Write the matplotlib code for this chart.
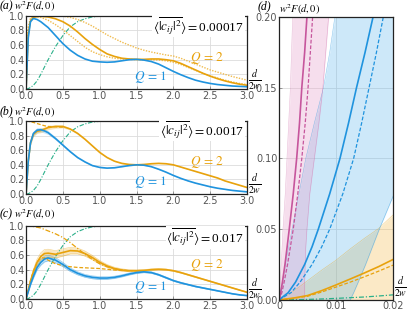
import numpy as np
import matplotlib.pyplot as plt

plt.rcParams['mathtext.fontset'] = 'stix'

BLUE = '#1f93de'
ORANGE = '#e8a20c'
LIGHT_OR = '#f0bb4e'
GREEN = '#2bb08a'
PINK = '#c6559c'

# common distance grid for panels (a)-(c), in units of 2w
X = [0, 0.03, 0.06, 0.1, 0.15, 0.2, 0.25, 0.3, 0.4, 0.5, 0.6, 0.7, 0.8, 0.9, 1.0,
     1.1, 1.2, 1.3, 1.4, 1.5, 1.6, 1.7, 1.8, 1.9, 2.0, 2.1, 2.2, 2.3, 2.4, 2.5,
     2.6, 2.7, 2.8, 2.9, 3.0]

green_ref = [0, 0.005, 0.02, 0.05, 0.11, 0.2, 0.3, 0.4, 0.58, 0.73, 0.85, 0.92, 0.96, 0.985, 0.995,
             1.0, 1.0, 1.0, 1.0, 1.0, 1.0, 1.0, 1.0, 1.0, 1.0, 1.0, 1.0, 1.0, 1.0, 1.0,
             1.0, 1.0, 1.0, 1.0, 1.0]

# (a)
a_q1 = [0, 0.7, 0.92, 0.965, 0.95, 0.92, 0.88, 0.84, 0.73, 0.62, 0.53, 0.46, 0.41, 0.38, 0.37,
        0.365, 0.37, 0.385, 0.4, 0.405, 0.395, 0.375, 0.34, 0.29, 0.24, 0.195, 0.155, 0.12, 0.095, 0.075,
        0.06, 0.05, 0.04, 0.035, 0.03]
a_q2 = [0, 0.75, 0.93, 0.98, 0.99, 0.995, 0.99, 0.985, 0.96, 0.92, 0.86, 0.78, 0.69, 0.61, 0.54,
        0.48, 0.445, 0.42, 0.41, 0.405, 0.405, 0.41, 0.41, 0.4, 0.385, 0.35, 0.305, 0.26, 0.215, 0.175,
        0.14, 0.11, 0.085, 0.065, 0.05]
a_q2_low = [0, 0.8, 0.95, 0.99, 0.99, 0.98, 0.96, 0.94, 0.88, 0.81, 0.73, 0.65, 0.57, 0.51, 0.47,
            0.44, 0.42, 0.41, 0.405, 0.4, 0.4, 0.4, 0.395, 0.385, 0.365, 0.335, 0.295, 0.255, 0.215, 0.18,
            0.15, 0.12, 0.095, 0.075, 0.06]
a_q2_high = [0, 0.85, 0.97, 0.99, 1.0, 1.0, 1.0, 1.0, 1.0, 0.995, 0.98, 0.95, 0.91, 0.86, 0.8,
             0.74, 0.69, 0.64, 0.6, 0.56, 0.53, 0.505, 0.485, 0.465, 0.45, 0.42, 0.38, 0.34, 0.3, 0.26,
             0.23, 0.2, 0.17, 0.145, 0.12]

# (b)
b_q1 = [0, 0.45, 0.7, 0.83, 0.875, 0.88, 0.865, 0.84, 0.76, 0.67, 0.58, 0.5, 0.44, 0.39, 0.365,
        0.355, 0.36, 0.375, 0.39, 0.4, 0.395, 0.375, 0.34, 0.3, 0.255, 0.215, 0.18, 0.15, 0.125, 0.1,
        0.08, 0.065, 0.05, 0.04, 0.03]
b_q1_err = [0, 0.02, 0.03, 0.035, 0.035, 0.03, 0.03, 0.025, 0.02, 0.015, 0.012, 0.01, 0.008, 0.007, 0.006,
            0.005, 0.005, 0.005, 0.005, 0.005, 0.005, 0.005, 0.004, 0.004, 0.004, 0.003, 0.003, 0.003, 0.003, 0.003,
            0.002, 0.002, 0.002, 0.002, 0.002]
b_q2 = [0, 0.45, 0.7, 0.82, 0.86, 0.87, 0.89, 0.91, 0.925, 0.925, 0.89, 0.83, 0.75, 0.66, 0.57,
        0.5, 0.45, 0.42, 0.405, 0.4, 0.405, 0.415, 0.42, 0.415, 0.4, 0.37, 0.34, 0.31, 0.28, 0.25,
        0.22, 0.18, 0.15, 0.12, 0.09]
b_q2_err = [0, 0.02, 0.03, 0.03, 0.03, 0.03, 0.03, 0.03, 0.025, 0.02, 0.015, 0.012, 0.01, 0.008, 0.007,
            0.006, 0.005, 0.005, 0.005, 0.005, 0.005, 0.005, 0.005, 0.004, 0.004, 0.004, 0.003, 0.003, 0.003, 0.003,
            0.003, 0.002, 0.002, 0.002, 0.002]
b_q2_short = [1.0, 0.995, 0.99, 0.98, 0.965, 0.95, 0.935, 0.925, 0.92, 0.915]

# (c)
c_q1 = [0, 0.1, 0.2, 0.31, 0.43, 0.5, 0.545, 0.56, 0.53, 0.47, 0.4, 0.35, 0.315, 0.295, 0.285,
        0.285, 0.295, 0.315, 0.34, 0.36, 0.37, 0.36, 0.33, 0.29, 0.25, 0.22, 0.195, 0.17, 0.15, 0.13,
        0.11, 0.09, 0.07, 0.055, 0.045]
c_q1_err = [0, 0.01, 0.02, 0.03, 0.035, 0.04, 0.04, 0.04, 0.035, 0.03, 0.025, 0.022, 0.02, 0.02, 0.02,
            0.018, 0.016, 0.015, 0.014, 0.013, 0.012, 0.011, 0.01, 0.01, 0.009, 0.008, 0.007, 0.007, 0.006, 0.006,
            0.005, 0.005, 0.004, 0.004, 0.004]
c_q2 = [0, 0.12, 0.24, 0.37, 0.5, 0.58, 0.62, 0.625, 0.61, 0.635, 0.66, 0.655, 0.62, 0.565, 0.5,
        0.45, 0.415, 0.395, 0.385, 0.385, 0.39, 0.4, 0.405, 0.4, 0.385, 0.36, 0.33, 0.3, 0.27, 0.24,
        0.21, 0.18, 0.15, 0.12, 0.09]
c_q2_err = [0, 0.01, 0.02, 0.035, 0.045, 0.05, 0.055, 0.055, 0.05, 0.05, 0.045, 0.04, 0.035, 0.03, 0.025,
            0.02, 0.018, 0.016, 0.014, 0.012, 0.011, 0.01, 0.01, 0.009, 0.008, 0.008, 0.007, 0.007, 0.006, 0.006,
            0.005, 0.005, 0.005, 0.004, 0.004]
c_q2_high = [1.0, 0.998, 0.995, 0.99, 0.98, 0.97, 0.95, 0.93, 0.89, 0.84, 0.77, 0.69, 0.61, 0.54, 0.48,
             0.44, 0.41, 0.395, 0.385, 0.385]
c_q2_low = [0, 0.12, 0.25, 0.38, 0.5, 0.56, 0.56, 0.53, 0.48, 0.455, 0.44, 0.43, 0.425, 0.42, 0.415,
            0.405, 0.395, 0.39, 0.385]

coef_labels = ['0.00017', '0.0017', '0.017']

# (d): short-distance zoom
d_y = [0, 0.005, 0.0125, 0.025, 0.0375, 0.05, 0.075, 0.1, 0.125, 0.15, 0.175, 0.2, 0.22]
pink_solid = [0, 0.0003, 0.0006, 0.00105, 0.00143, 0.0018, 0.0025, 0.0031, 0.0036, 0.004, 0.0045, 0.0049, 0.0052]
pink_dash = [0, 0.0005, 0.0009, 0.0015, 0.002, 0.0025, 0.0033, 0.004, 0.0046, 0.0051, 0.0055, 0.0059, 0.0062]
pink_lo = [0, 0.0001, 0.0002, 0.0004, 0.00055, 0.0007, 0.0011, 0.0014, 0.0017, 0.002, 0.0022, 0.0024, 0.0026]
pink_hi = [0.0045, 0.0045, 0.0045, 0.0046, 0.0047, 0.0049, 0.0054, 0.0062, 0.007, 0.0077, 0.0082, 0.0087, 0.009]
blue_solid = [0, 0.0016, 0.0029, 0.0045, 0.0058, 0.0069, 0.0089, 0.0107, 0.0122, 0.0136, 0.0151, 0.0165, 0.0175]
blue_dash = [0, 0.0021, 0.0037, 0.0058, 0.0075, 0.0089, 0.0112, 0.0131, 0.0145, 0.0158, 0.0171, 0.0183, 0.0192]
blue_lo = [0, 0.0002, 0.0006, 0.0011, 0.0017, 0.0023, 0.0035, 0.0047, 0.0062, 0.0078, 0.0089, 0.0098, 0.0105]
blue_hi = [0.0125, 0.0131, 0.0139, 0.0152, 0.0164, 0.0176, 0.0202, 0.0228, 0.0255, 0.028, 0.031, 0.034, 0.036]

d_x = [0, 0.0025, 0.005, 0.0075, 0.01, 0.0125, 0.015, 0.0175, 0.02]
or_solid = [0, 0.0012, 0.003, 0.0065, 0.0105, 0.0147, 0.019, 0.0235, 0.0285]
or_dash = [0, 0.001, 0.0025, 0.0055, 0.009, 0.0125, 0.0163, 0.0203, 0.0245]
or_hi = [0, 0.006, 0.0135, 0.021, 0.028, 0.036, 0.0435, 0.0505, 0.06]
green_d = [0, 0.0001, 0.0003, 0.0006, 0.001, 0.0015, 0.002, 0.0027, 0.0035]

fig = plt.figure(figsize=(4.07, 3.11), dpi=100)


def frame(ax, xt, yt, xl, yl, xlim, ylim):
    ax.set_xlim(*xlim)
    ax.set_ylim(*ylim)
    ax.set_xticks(xt)
    ax.set_yticks(yt)
    ax.set_xticklabels(xl)
    ax.set_yticklabels(yl)
    ax.grid(True, color='#dcdcdc', lw=0.6)
    ax.set_axisbelow(True)
    ax.tick_params(direction='in', length=2.5, width=0.6, color='#888888',
                   labelsize=7, labelcolor='#555555', pad=1.2)
    for s in ax.spines.values():
        s.set_color('#222222')
        s.set_linewidth(0.9)


tops = [0.714, 0.376, 0.039]
tags = ['(a)', '(b)', '(c)']
axes = []
for i in range(3):
    ax = fig.add_axes([0.064, tops[i], 0.543, 0.235])
    frame(ax, [0, 0.5, 1.0, 1.5, 2.0, 2.5, 3.0], [0, 0.2, 0.4, 0.6, 0.8, 1.0],
          ['0.0', '0.5', '1.0', '1.5', '2.0', '2.5', '3.0'],
          ['0.0', '0.2', '0.4', '0.6', '0.8', '1.0'], (0, 3), (0, 1))
    ax.plot(X, green_ref, color=GREEN, lw=0.8, ls=(0, (4, 1.5, 1, 1.5)))
    axes.append(ax)

ax = axes[0]
ax.plot(X, a_q2_high, color=LIGHT_OR, lw=1.0, ls=(0, (1, 1)))
ax.plot(X, a_q2_low, color=LIGHT_OR, lw=1.0, ls=(0, (1, 1)))
ax.plot(X, a_q2, color=ORANGE, lw=1.2)
ax.plot(X, a_q1, color=BLUE, lw=1.2)

ax = axes[1]
lo = np.array(b_q1) - np.array(b_q1_err)
hi = np.array(b_q1) + np.array(b_q1_err)
ax.fill_between(X, lo, hi, color=BLUE, alpha=0.25, lw=0)
lo = np.array(b_q2) - np.array(b_q2_err)
hi = np.array(b_q2) + np.array(b_q2_err)
ax.fill_between(X, lo, hi, color=ORANGE, alpha=0.25, lw=0)
ax.plot(X[:len(b_q2_short)], b_q2_short, color=ORANGE, lw=0.9, ls=(0, (3, 1.5)))
ax.plot(X, b_q2, color=ORANGE, lw=1.2)
ax.plot(X, b_q1, color=BLUE, lw=1.2)

ax = axes[2]
lo = np.array(c_q1) - np.array(c_q1_err)
hi = np.array(c_q1) + np.array(c_q1_err)
ax.fill_between(X, lo, hi, color=BLUE, alpha=0.25, lw=0)
ax.plot(X, lo, color=BLUE, lw=0.4, alpha=0.5)
ax.plot(X, hi, color=BLUE, lw=0.4, alpha=0.5)
lo = np.array(c_q2) - np.array(c_q2_err)
hi = np.array(c_q2) + np.array(c_q2_err)
ax.fill_between(X, lo, hi, color=ORANGE, alpha=0.25, lw=0)
ax.plot(X, lo, color=ORANGE, lw=0.4, alpha=0.5)
ax.plot(X, hi, color=ORANGE, lw=0.4, alpha=0.5)
ax.plot(X[:len(c_q2_high)], c_q2_high, color=ORANGE, lw=0.9, ls=(0, (4, 1.5, 1, 1.5)))
ax.plot(X[:len(c_q2_low)], c_q2_low, color=ORANGE, lw=0.9, ls=(0, (3, 1.5)))
ax.plot(X, c_q2, color=ORANGE, lw=1.2)
ax.plot(X, c_q1, color=BLUE, lw=1.2)

q2_y = [0.42, 0.44, 0.46]
q1_y = [0.16, 0.17, 0.16]
label_y = [0.86, 0.875, 0.84]
fr_y = [81, 185, 290]
head_y = [16, 121, 224]
for i, ax in enumerate(axes):
    ax.text(2.22, q2_y[i], r'$Q\,=\,2$', color=ORANGE, fontsize=9.5, va='center')
    ax.text(1.46, q1_y[i], r'$Q\,=\,1$', color=BLUE, fontsize=9.5, va='center')
    ax.text(0.985, label_y[i], r'$\langle\overline{|c_{ij}|^2}\rangle = $' + coef_labels[i],
            transform=ax.transAxes, ha='right', va='center', fontsize=9.5,
            family='Liberation Serif',
            bbox=dict(fc='white', ec='none', pad=0.6))
    fig.text(255 / 407, 1 - fr_y[i] / 311, r'$\frac{d}{2w}$', fontsize=10,
             ha='center', va='center')
    fig.text(0.0, 1 - (head_y[i] - 10) / 311, tags[i], fontsize=8.5,
             family='Liberation Serif', style='italic', va='center')
    fig.text(0.034, 1 - (head_y[i] - 1.5) / 311, r'$w^2F(d,0)$', fontsize=7.5, va='bottom')

# (d)
axd = fig.add_axes([0.6855, 0.036, 0.280, 0.909])
frame(axd, [0, 0.01, 0.02], [0, 0.05, 0.1, 0.15, 0.2], ['0', '0.01', '0.02'],
      ['0.00', '0.05', '0.10', '0.15', '0.20'], (0, 0.02), (0, 0.2))
axd.tick_params(axis='x', pad=0.6)
axd.fill_between(d_x, 0, or_hi, color='#f2b845', alpha=0.3, lw=0)
axd.plot(d_x, or_hi, color=ORANGE, lw=0.4, alpha=0.5)
axd.fill_betweenx(d_y, blue_lo, blue_hi, color='#5ab4ee', alpha=0.3, lw=0)
axd.plot(blue_lo, d_y, color=BLUE, lw=0.4, alpha=0.5)
axd.plot(blue_hi, d_y, color=BLUE, lw=0.4, alpha=0.5)
axd.fill_betweenx(d_y, pink_lo, pink_hi, color='#e7a3cc', alpha=0.35, lw=0)
axd.plot(pink_lo, d_y, color=PINK, lw=0.4, alpha=0.4)
axd.plot(pink_hi, d_y, color=PINK, lw=0.4, alpha=0.4)
axd.plot(d_x, green_d, color=GREEN, lw=0.9, ls=(0, (4, 1.5, 1, 1.5)))
axd.plot(d_x, or_dash, color=ORANGE, lw=0.9, ls=(0, (3, 1.5)))
axd.plot(d_x, or_solid, color=ORANGE, lw=1.2)
axd.plot(blue_dash, d_y, color=BLUE, lw=0.9, ls=(0, (3, 1.5)))
axd.plot(blue_solid, d_y, color=BLUE, lw=1.2)
axd.plot(pink_dash, d_y, color=PINK, lw=0.9, ls=(0, (3, 1.5)))
axd.plot(pink_solid, d_y, color=PINK, lw=1.2)

fig.text(401 / 407, 1 - 288 / 311, r'$\frac{d}{2w}$', fontsize=10, ha='center', va='center')
fig.text(258 / 407, 1 - 6 / 311, '(d)', fontsize=8.5, family='Liberation Serif',
         style='italic', va='center')
fig.text(279 / 407, 1 - 17 / 311, r'$w^2F(d,0)$', fontsize=7.5, va='bottom')

fig.savefig('out.png', dpi=100)
